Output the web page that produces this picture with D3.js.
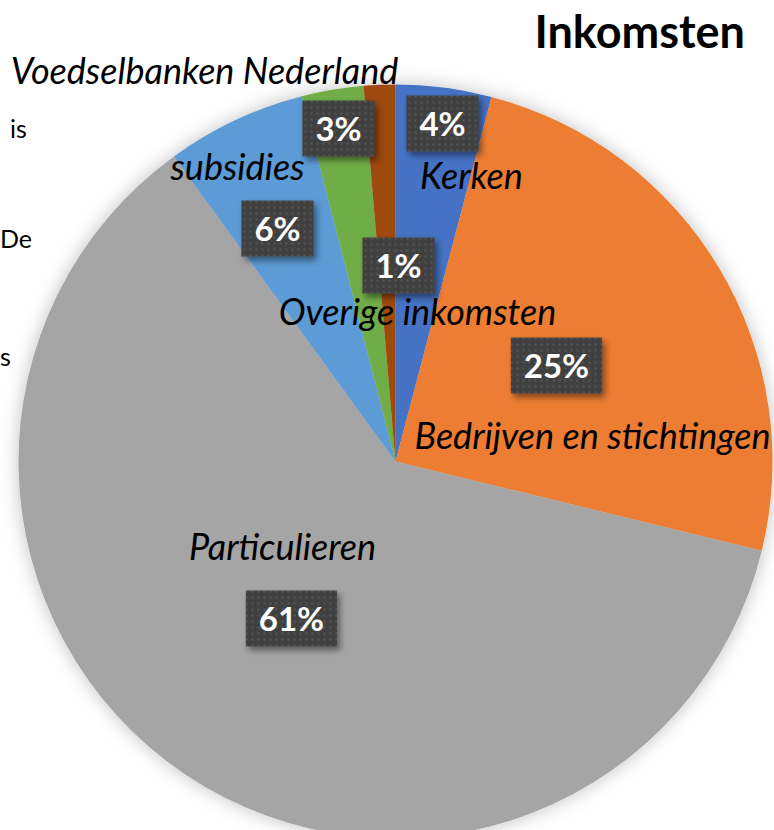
<!DOCTYPE html>
<html>
<head>
<meta charset="utf-8">
<script src="https://cdn.jsdelivr.net/npm/d3@7"></script>
<style>
  html, body { margin: 0; padding: 0; background: #fff; }
  svg { display: block; }
  text { font-family: Lato, "Open Sans", sans-serif; }
</style>
</head>
<body>
<svg id="chart"></svg>
<script>
// Data (share of income, %)
const categories = ["Kerken", "Bedrijven en stichtingen", "Particulieren", "subsidies", "Voedselbanken Nederland", "Overige inkomsten"];
const values = [4.1, 24.7, 61.2, 6.0, 2.65, 1.35];
const colors = ["#4472C4", "#ED7D31", "#A5A5A5", "#5B9BD5", "#70AD47", "#9E480E"];
const title = "Inkomsten";
// cut-off words of the page text that sits left of the chart
const marginWords = ["is", "De", "s"];

// Label placement (manually placed labels), offsets from pie centre
// names: [x centre, baseline]; values: box centre
const nameOffsets = [[76, -273], [197, -13], [-113, 98], [-158, -282], [-191, -378], [22, -137]];
const valueOffsets = [[47, -338], [161, -96], [-104, 157], [-118, -233], [-57, -333], [3, -196]];

const config = {
    width: 774,
    height: 830,
    cx: 395.5,
    cy: 461.5,
    radius: 377
};

const svg = d3.select('#chart')
    .attr('width', config.width)
    .attr('height', config.height);

const defs = svg.append('defs');

// soft outer shadow of the pie
const pieShadow = defs.append('filter')
    .attr('id', 'pieShadow')
    .attr('x', '-20%').attr('y', '-20%')
    .attr('width', '140%').attr('height', '140%');
pieShadow.append('feDropShadow')
    .attr('dx', 0).attr('dy', 0)
    .attr('stdDeviation', 9)
    .attr('flood-color', '#000')
    .attr('flood-opacity', 0.25);

// shadow of the label boxes
const boxShadow = defs.append('filter')
    .attr('id', 'boxShadow')
    .attr('x', '-30%').attr('y', '-30%')
    .attr('width', '170%').attr('height', '180%');
boxShadow.append('feDropShadow')
    .attr('dx', 3).attr('dy', 4)
    .attr('stdDeviation', 3)
    .attr('flood-color', '#000')
    .attr('flood-opacity', 0.45);

// dotted fill of the label boxes
const dots = defs.append('pattern')
    .attr('id', 'dots')
    .attr('patternUnits', 'userSpaceOnUse')
    .attr('width', 6).attr('height', 6);
dots.append('rect').attr('width', 6).attr('height', 6).attr('fill', '#404040');
dots.append('rect').attr('x', 2).attr('y', 2).attr('width', 2).attr('height', 2).attr('fill', '#575757');

// page words at the left edge
marginWords.forEach((w, i) => {
    svg.append('text')
        .attr('x', [10, 0, 0][i])
        .attr('y', [138, 248, 366][i])
        .attr('font-size', 25)
        .attr('fill', '#000')
        .text(w);
});

const pie = d3.pie().sort(null).value(d => d);
const arcs = pie(values);
const arc = d3.arc().innerRadius(0).outerRadius(config.radius);

const chart = svg.append('g')
    .attr('transform', `translate(${config.cx},${config.cy})`);

chart.append('g')
    .attr('filter', 'url(#pieShadow)')
    .selectAll('path')
    .data(arcs)
    .join('path')
    .attr('d', arc)
    .attr('fill', (d, i) => colors[i]);

// category names
chart.selectAll('.name')
    .data(categories)
    .join('text')
    .attr('class', 'name')
    .attr('x', (d, i) => nameOffsets[i][0])
    .attr('y', (d, i) => nameOffsets[i][1])
    .attr('text-anchor', 'middle')
    .attr('font-size', 36)
    .attr('font-style', 'italic')
    .attr('fill', '#000')
    .text(d => d);

// value labels
const total = d3.sum(values);
const valueLabels = chart.selectAll('.value')
    .data(arcs)
    .join('g')
    .attr('class', 'value')
    .attr('transform', (d, i) => `translate(${valueOffsets[i][0]},${valueOffsets[i][1]})`);

valueLabels.append('text')
    .attr('text-anchor', 'middle')
    .attr('y', 12)
    .attr('font-size', 33)
    .attr('font-weight', 'bold')
    .attr('fill', '#fff')
    .text(d => `${Math.round(d.value / total * 100)}%`)
    .each(function() {
        const bb = this.getBBox();
        const w = Math.max(68, bb.width + 26);
        d3.select(this.parentNode).insert('rect', 'text')
            .attr('x', -w / 2)
            .attr('y', -28)
            .attr('width', w)
            .attr('height', 56)
            .attr('fill', 'url(#dots)')
            .attr('filter', 'url(#boxShadow)');
    });

svg.append('text')
    .attr('x', 745)
    .attr('y', 48)
    .attr('text-anchor', 'end')
    .attr('font-size', 45)
    .attr('font-weight', 'bold')
    .attr('fill', '#000')
    .text(title);
</script>
</body>
</html>
